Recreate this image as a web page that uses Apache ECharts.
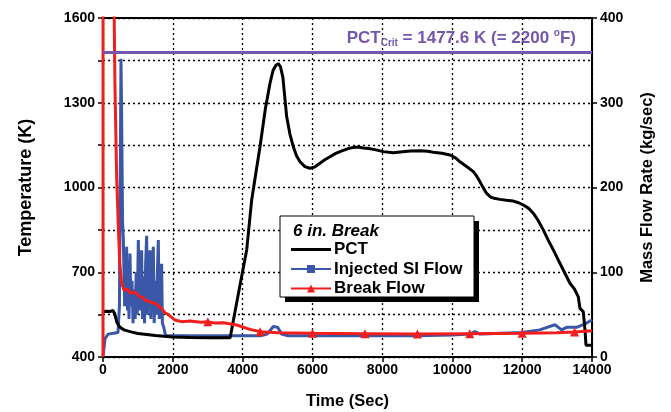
<!DOCTYPE html>
<html>
<head>
<meta charset="utf-8">
<script src="https://cdn.jsdelivr.net/npm/echarts@6/dist/echarts.min.js"></script>
<style>
html,body{margin:0;padding:0;background:#fff;}
#chart{width:671px;height:412px;}
</style>
</head>
<body>
<div id="chart"></div>
<script>
// ---------- data ----------
const xTicks = [0, 2000, 4000, 6000, 8000, 10000, 12000, 14000];
const tempTicks = [400, 700, 1000, 1300, 1600];
const flowTicks = [0, 100, 200, 300, 400];
const seriesNames = ['PCT', 'Injected SI Flow', 'Break Flow'];
const legendTitle = '6 in. Break';
const pctCritK = 1477.6;
const pctCritF = 2200;

// PCT (K) vs time (s)
const pct = [
  [0,560],[100,562],[200,561],[280,565],[330,555],[400,522],[487,505],[600,496],[800,489],
  [1000,483],[1500,476],[2000,471],[2500,469],[3000,468],[3640,468],[3900,640],[4114,779],[4257,956],
  [4400,1070],[4495,1144],[4650,1280],[4781,1369],[4870,1415],[4950,1433],[5019,1438],[5080,1428],[5150,1390],
  [5258,1251],[5350,1190],[5449,1144],[5540,1112],[5640,1091],[5780,1074],[5926,1068],[6050,1072],
  [6200,1085],[6350,1098],[6499,1109],[6650,1120],[6800,1128],[7000,1137],[7166,1142],[7300,1143],[7452,1140],
  [7600,1138],[7750,1135],[8025,1127],[8311,1123],[8503,1126],[8800,1129],[9075,1130],[9300,1128],[9457,1125],
  [9700,1121],[9934,1115],[10100,1104],[10220,1091],[10400,1075],[10602,1056],[10700,1040],[10793,1020],
  [10900,996],[10984,979],[11100,966],[11200,962],[11365,958],[11550,955],[11747,952],[11900,946],[12033,938],
  [12180,927],[12319,909],[12450,885],[12605,850],[12750,813],[12892,779],[13040,742],[13178,708],[13369,661],
  [13500,640],[13607,613],[13656,572],[13751,560],[13799,496],[13828,442],[14000,442]
];

// Injected SI flow (kg/s)
const siFlow = [
  [0,0],[60,22],[150,27],[300,28],[430,29],[470,60],[500,250],[515,352],[530,300],[560,160],
  [582,140],[600,100],[620,60],[640,118],[660,75],[677,130],[700,55],[720,100],[745,45],
  [773,122],[800,60],[830,90],[860,40],[890,80],[920,45],[950,100],[980,50],[1011,138],
  [1040,55],[1070,90],[1106,126],[1130,45],[1160,95],[1190,40],[1220,110],[1250,143],
  [1275,50],[1300,85],[1345,126],[1370,45],[1400,100],[1441,130],[1465,40],[1500,90],
  [1530,50],[1560,105],[1584,138],[1610,45],[1640,80],[1679,110],[1700,40],[1740,35],
  [1775,28],[1800,25],[2500,25],[3500,25],[4500,25],[4700,27],[4876,36],[5000,35],[5115,27],
  [5300,25],[6000,25],[7000,25],[8000,25],[9000,25],[10000,26],[10500,27],[10650,30],
  [10800,27],[11400,28],[12000,29],[12500,32],[12940,38],[13130,32],[13274,35],[13560,35],
  [13800,39],[14000,44]
];

// Break flow (kg/s)
const breakFlow = [
  [0,0],[8,3000],[280,2500],[315,420],[343,319],[391,213],[438,154],[480,110],[534,87],
  [600,79],[700,80],[800,75],[900,77],[1059,71],[1150,70],[1202,67],[1300,66],[1400,64],
  [1489,63.5],[1600,60],[1700,56],[1775,52],[1870,50],[2061,43.6],[2252,41.7],[2491,42.5],
  [2800,41],[3016,41.5],[3200,40],[3444,40.5],[3827,37.8],[4209,32.6],[4495,29.9],
  [5000,28.5],[6000,28],[7500,27.5],[9000,27],[10500,27.5],[12000,28],[13000,28.5],
  [13500,29.5],[14000,31]
];
const breakMarkerTimes = [3000, 4500, 6000, 7500, 9000, 10500, 12000, 13500];

// ---------- styles ----------
const FONT = '"Liberation Sans", Arial, sans-serif';
const PURPLE = '#7457ad';
const BLUE = '#3a57a8';
const RED = '#f21d1d';

function insertTimes(arr, times) {
  const out = arr.slice();
  times.forEach(t => {
    if (out.some(p => p[0] === t)) return;
    for (let i = 0; i < out.length - 1; i++) {
      if (out[i][0] < t && out[i + 1][0] > t) {
        const f = (t - out[i][0]) / (out[i + 1][0] - out[i][0]);
        out.splice(i + 1, 0, [t, out[i][1] + f * (out[i + 1][1] - out[i][1])]);
        break;
      }
    }
  });
  return out;
}
const breakData = insertTimes(breakFlow, breakMarkerTimes).map(p =>
  breakMarkerTimes.indexOf(p[0]) >= 0 ? { value: p, symbolSize: 9 } : { value: p, symbolSize: 0 });

const chart = echarts.init(document.getElementById('chart'), null, { renderer: 'canvas' });

const gridLeft = 103, gridRight = 79, gridTop = 18, gridBottom = 55;
const tickLabel = { color: '#000', fontFamily: FONT, fontWeight: 'bold', fontSize: 14 };
const dotted = { color: '#000', width: 1.3, type: [2, 3] };

chart.setOption({
  animation: false,
  backgroundColor: '#fff',
  textStyle: { fontFamily: FONT },
  grid: {
    left: gridLeft, right: gridRight, top: gridTop, bottom: gridBottom,
    containLabel: false, outerBoundsMode: 'none',
    show: true, borderColor: '#000', borderWidth: 2, backgroundColor: 'transparent'
  },
  xAxis: {
    type: 'value', min: xTicks[0], max: xTicks[xTicks.length - 1], interval: xTicks[1] - xTicks[0],
    name: 'Time (Sec)', nameLocation: 'middle', nameGap: 36,
    nameTextStyle: { color: '#000', fontFamily: FONT, fontWeight: 'bold', fontSize: 16.5 },
    axisLine: { lineStyle: { color: '#000', width: 2 } },
    axisTick: { show: true, inside: false, length: 5, lineStyle: { color: '#000', width: 1.5 } },
    axisLabel: Object.assign({ margin: 6, formatter: v => String(v) }, tickLabel),
    splitLine: { show: true, lineStyle: dotted }
  },
  yAxis: [
    {
      type: 'value', min: tempTicks[0], max: tempTicks[tempTicks.length - 1],
      interval: (tempTicks[1] - tempTicks[0]) / 2,
      name: 'Temperature (K)', nameLocation: 'middle', nameGap: 68, nameRotate: 90,
      nameTextStyle: { color: '#000', fontFamily: FONT, fontWeight: 'bold', fontSize: 18 },
      axisLine: { show: true, lineStyle: { color: '#000', width: 2 } },
      axisTick: { show: true, length: 5, lineStyle: { color: '#000', width: 1.5 } },
      axisLabel: Object.assign({
        margin: 8,
        formatter: v => tempTicks.indexOf(v) >= 0 ? String(v) : ''
      }, tickLabel),
      splitLine: { show: true, lineStyle: dotted }
    },
    {
      type: 'value', min: flowTicks[0], max: flowTicks[flowTicks.length - 1],
      interval: flowTicks[1] - flowTicks[0],
      name: 'Mass Flow Rate (kg/sec)', nameLocation: 'middle', nameGap: 47, nameRotate: 90,
      nameTextStyle: { color: '#000', fontFamily: FONT, fontWeight: 'bold', fontSize: 16.5 },
      axisLine: { show: true, lineStyle: { color: '#000', width: 2 } },
      axisTick: { show: true, length: 5, lineStyle: { color: '#000', width: 1.5 } },
      axisLabel: Object.assign({ margin: 8 }, tickLabel),
      splitLine: { show: false }
    }
  ],
  legend: {
    orient: 'vertical', left: 290, top: 240, itemGap: 0.5, padding: 0,
    itemWidth: 40, itemHeight: 10,
    data: [
      { name: seriesNames[0], icon: 'path://M0,0 L40,0 L40,3 L0,3 Z', itemStyle: { color: '#000' } },
      { name: seriesNames[1] },
      { name: seriesNames[2] }
    ],
    selectedMode: false,
    textStyle: { color: '#000', fontFamily: FONT, fontWeight: 'bold', fontSize: 17, lineHeight: 19, padding: [0, 0, 0, -2] },
    z: 20
  },
  graphic: [
    { type: 'rect', z: 1, shape: { x: 285, y: 221, width: 194, height: 81 }, style: { fill: '#000' } },
    { type: 'rect', z: 1.5, shape: { x: 280, y: 216, width: 194, height: 81 }, style: { fill: '#fff', stroke: '#000', lineWidth: 1 } },
    { type: 'text', z: 2, left: 293, top: 223, style: { text: legendTitle, fill: '#000', font: 'italic bold 17px ' + FONT } }
  ],
  series: [
    {
      name: seriesNames[0], type: 'line', yAxisIndex: 0, data: pct,
      symbol: 'none',
      lineStyle: { color: '#000', width: 3 }, itemStyle: { color: '#000' }, z: 3,
      markLine: {
        silent: true, symbol: 'none',
        data: [{ yAxis: pctCritK }],
        lineStyle: { color: PURPLE, width: 3, type: 'solid' },
        label: {
          show: true, position: 'insideEndTop', distance: 4,
          padding: [0, 12, 0, 0],
          formatter: '{a|PCT}{s|Crit}{a| = ' + pctCritK + ' K (= ' + pctCritF + ' }{p|o}{a|F)}',
          rich: {
            a: { color: PURPLE, fontFamily: FONT, fontWeight: 'bold', fontSize: 17, lineHeight: 20, verticalAlign: 'middle' },
            s: { color: PURPLE, fontFamily: FONT, fontWeight: 'bold', fontSize: 10, lineHeight: 10, verticalAlign: 'bottom' },
            p: { color: PURPLE, fontFamily: FONT, fontWeight: 'bold', fontSize: 10, lineHeight: 10, verticalAlign: 'top' }
          }
        }
      }
    },
    {
      name: seriesNames[1], type: 'line', yAxisIndex: 1, data: siFlow,
      symbol: 'rect', symbolSize: 0, showSymbol: true,
      lineStyle: { color: BLUE, width: 3 }, itemStyle: { color: BLUE }, z: 2
    },
    {
      name: seriesNames[2], type: 'line', yAxisIndex: 1, data: breakData,
      symbol: 'triangle', showSymbol: true, showAllSymbol: true,
      lineStyle: { color: RED, width: 3 }, itemStyle: { color: RED }, z: 3
    }
  ]
});
</script>
</body>
</html>
